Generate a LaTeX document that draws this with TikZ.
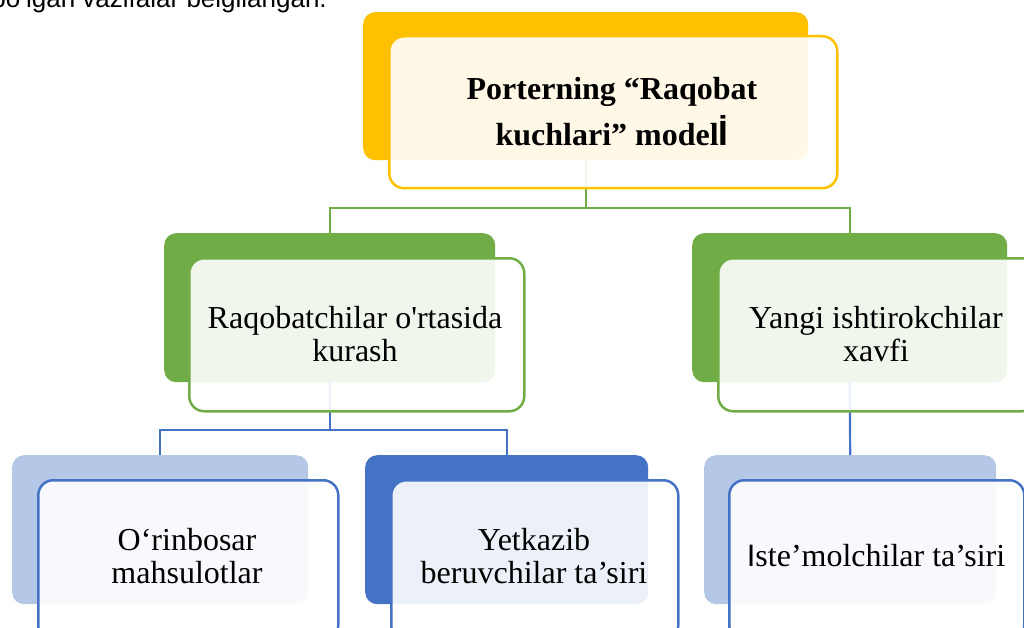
\documentclass[tikz,border=0pt]{standalone}
\usepackage{fontspec}
\setmainfont{Liberation Serif}[Ligatures=TeXOff]
\newfontfamily\sansf{Liberation Sans}[Ligatures=TeXOff]
\definecolor{gold}{HTML}{FFC000}
\definecolor{leaf}{HTML}{70AD47}
\definecolor{navy}{HTML}{4472C4}
\definecolor{pale}{HTML}{B4C7E7}
\begin{document}
\begin{tikzpicture}[x=1pt,y=-1pt,
  back/.style={draw=none, rounded corners=12pt, inner sep=0pt, anchor=north west},
  front/.style={rounded corners=15pt, fill=white, fill opacity=0.9, line width=2.5pt, inner sep=0pt, anchor=north west},
  lbl/.style={align=center, inner sep=0pt, font=\fontsize{32}{33}\selectfont},
  ttl/.style={align=center, inner sep=0pt, font=\bfseries\fontsize{32}{46}\selectfont},
  conn/.style={line width=2.2pt}]
\useasboundingbox (0,0) rectangle (1024,628);
\clip (0,0) rectangle (1024,628);

% caption fragment cut at top
\node[font=\sansf\fontsize{26}{30}\selectfont, anchor=base east, inner sep=0pt] (cap) at (327,8) {bo‘lgan vazifalar belgilangan.};

% back boxes
\node[back, fill=gold, minimum width=445pt, minimum height=148pt] (b1) at (363,12) {};
\node[back, fill=leaf, minimum width=331pt, minimum height=149pt] (b2) at (164,233) {};
\node[back, fill=leaf, minimum width=315pt, minimum height=149pt] (b3) at (692,233) {};
\node[back, fill=pale, minimum width=296pt, minimum height=149pt] (b4) at (12,455) {};
\node[back, fill=navy, minimum width=283pt, minimum height=149pt] (b5) at (365,455) {};
\node[back, fill=pale, minimum width=292pt, minimum height=149pt] (b6) at (704,455) {};

% connectors
\draw[conn, leaf] (b1.south) -- (b1.south |- 0,208) -| (b2.north);
\draw[conn, leaf] (b1.south |- 0,208) -| (b3.north);
\draw[conn, navy] (b2.south) -- (b2.south |- 0,430) -| (b4.north);
\draw[conn, navy] (b2.south |- 0,430) -| (b5.north);
\draw[conn, navy] (b3.south) -- (b6.north);

% front boxes
\node[front, draw=gold, minimum width=448pt, minimum height=152pt] (f1) at (388,35) {};
\node[front, draw=leaf, minimum width=335pt, minimum height=153pt] (f2) at (188,257) {};
\node[front, draw=leaf, minimum width=318pt, minimum height=153pt] (f3) at (717,257) {};
\node[front, draw=navy, minimum width=300pt, minimum height=160pt] (f4) at (37,479) {};
\node[front, draw=navy, minimum width=287pt, minimum height=160pt] (f5) at (390,479) {};
\node[front, draw=navy, minimum width=295pt, minimum height=160pt] (f6) at (728,479) {};

% labels
\node[ttl] (t1) at (612,112) {Porterning “Raqobat\\kuchlari” model{\sansf\bfseries\fontsize{35}{35}\selectfont İ}};
\node[lbl] (t2) at (355,334) {Raqobatchilar o'rtasida\\kurash};
\node[lbl] (t3) at (876,334) {Yangi ishtirokchilar\\xavfi};
\node[lbl] (t4) at (187,556) {O‘rinbosar\\mahsulotlar};
\node[lbl] (t5) at (534,556) {Yetkazib\\beruvchilar ta’siri};
\node[lbl] (t6) at (876,556) {{\sansf\fontsize{31}{33}\selectfont I}ste’molchilar ta’siri};
\end{tikzpicture}
\end{document}
